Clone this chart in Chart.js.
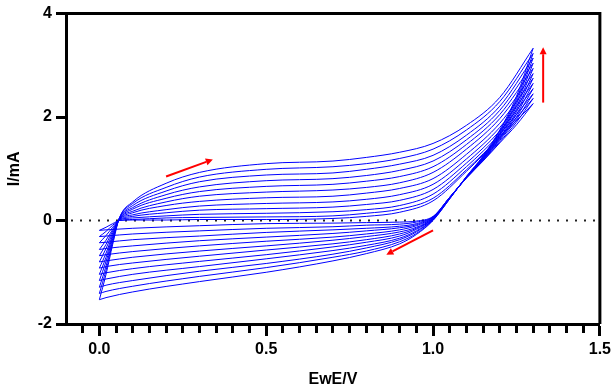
<!DOCTYPE html>
<html lang="en">
<head>
  <meta charset="UTF-8" />
  <title>CV cycles</title>
  <script src="https://cdn.jsdelivr.net/npm/chart.js"></script>
  <style>
    html, body { margin: 0; padding: 0; background: #ffffff; }
    #wrap { width: 615px; height: 391px; }
  </style>
</head>
<body>
  <div id="wrap"><canvas id="cv"></canvas></div>

  <script>
  // potential grid (V) for the anodic sweep and the cathodic sweep
  const E_FWD = [0, 0.02, 0.04, 0.06, 0.1, 0.2, 0.3, 0.5, 0.7, 0.8, 0.9, 1.0, 1.1, 1.2, 1.3];
  const E_REV = [1.3, 1.25, 1.2, 1.15, 1.1, 1.05, 1.0, 0.95, 0.9, 0.8, 0.7, 0.5, 0.3, 0.1, 0.02, 0];

  // current (mA), one row per cycle, anodic sweep
  const I_FWD = [
    [-0.19, -0.13, -0.06, 0.00, 0.01, 0.01, 0.02, 0.02, 0.04, 0.08, 0.16, 0.38, 0.95, 1.60, 2.26],
    [-0.31, -0.21, -0.09, 0.00, 0.02, 0.05, 0.06, 0.07, 0.09, 0.14, 0.22, 0.43, 0.98, 1.62, 2.36],
    [-0.43, -0.29, -0.13, 0.01, 0.05, 0.09, 0.12, 0.14, 0.17, 0.21, 0.29, 0.51, 1.04, 1.67, 2.45],
    [-0.56, -0.38, -0.17, 0.01, 0.08, 0.15, 0.20, 0.23, 0.26, 0.31, 0.39, 0.60, 1.11, 1.73, 2.55],
    [-0.68, -0.46, -0.20, 0.02, 0.11, 0.21, 0.28, 0.33, 0.36, 0.41, 0.50, 0.70, 1.19, 1.80, 2.65],
    [-0.80, -0.54, -0.24, 0.02, 0.15, 0.29, 0.37, 0.44, 0.47, 0.53, 0.62, 0.81, 1.28, 1.88, 2.75],
    [-0.92, -0.63, -0.28, 0.03, 0.18, 0.36, 0.47, 0.55, 0.59, 0.64, 0.73, 0.93, 1.38, 1.97, 2.84],
    [-1.04, -0.71, -0.31, 0.03, 0.22, 0.43, 0.56, 0.66, 0.70, 0.76, 0.85, 1.04, 1.47, 2.05, 2.94],
    [-1.16, -0.79, -0.35, 0.04, 0.25, 0.50, 0.65, 0.77, 0.81, 0.87, 0.97, 1.15, 1.56, 2.13, 3.04],
    [-1.29, -0.88, -0.39, 0.04, 0.29, 0.57, 0.75, 0.88, 0.92, 0.99, 1.09, 1.26, 1.65, 2.21, 3.14],
    [-1.41, -0.96, -0.42, 0.05, 0.33, 0.64, 0.84, 0.99, 1.04, 1.10, 1.20, 1.38, 1.75, 2.30, 3.23],
    [-1.53, -1.04, -0.46, 0.05, 0.36, 0.72, 0.93, 1.10, 1.15, 1.22, 1.32, 1.49, 1.84, 2.38, 3.33]
  ];

  // current (mA), one row per cycle, cathodic sweep
  const I_REV = [
    [2.26, 1.85, 1.50, 1.15, 0.82, 0.45, 0.08, -0.01, -0.03, -0.04, -0.05, -0.06, -0.10, -0.15, -0.18, -0.19],
    [2.36, 1.90, 1.52, 1.16, 0.82, 0.45, 0.07, -0.03, -0.07, -0.09, -0.12, -0.15, -0.20, -0.26, -0.30, -0.31],
    [2.45, 1.95, 1.55, 1.17, 0.83, 0.45, 0.07, -0.06, -0.11, -0.15, -0.18, -0.23, -0.30, -0.37, -0.42, -0.43],
    [2.55, 2.00, 1.57, 1.18, 0.83, 0.44, 0.06, -0.08, -0.14, -0.20, -0.25, -0.32, -0.39, -0.49, -0.54, -0.56],
    [2.65, 2.05, 1.59, 1.19, 0.83, 0.44, 0.05, -0.10, -0.18, -0.26, -0.32, -0.40, -0.49, -0.60, -0.66, -0.68],
    [2.75, 2.10, 1.61, 1.20, 0.83, 0.44, 0.04, -0.13, -0.22, -0.31, -0.38, -0.49, -0.59, -0.71, -0.78, -0.80],
    [2.84, 2.15, 1.64, 1.20, 0.84, 0.44, 0.04, -0.15, -0.26, -0.37, -0.45, -0.57, -0.69, -0.82, -0.89, -0.92],
    [2.94, 2.20, 1.66, 1.21, 0.84, 0.43, 0.03, -0.17, -0.30, -0.42, -0.51, -0.66, -0.79, -0.93, -1.01, -1.04],
    [3.04, 2.25, 1.68, 1.22, 0.84, 0.43, 0.02, -0.20, -0.34, -0.48, -0.58, -0.74, -0.89, -1.04, -1.13, -1.16],
    [3.14, 2.30, 1.70, 1.23, 0.84, 0.43, 0.02, -0.22, -0.37, -0.53, -0.65, -0.83, -0.98, -1.16, -1.25, -1.29],
    [3.23, 2.35, 1.73, 1.24, 0.85, 0.42, 0.01, -0.25, -0.41, -0.59, -0.71, -0.91, -1.08, -1.27, -1.37, -1.41],
    [3.33, 2.40, 1.75, 1.25, 0.85, 0.42, 0.00, -0.27, -0.45, -0.64, -0.78, -1.00, -1.18, -1.38, -1.49, -1.53]
  ];

  const X_LABELS = [0, 0.5, 1.0, 1.5];
  const Y_LABELS = [-2, 0, 2, 4];

  // scan direction arrows [E start, I start, E end, I end]
  const ARROWS = [
    [0.20, 0.85, 0.34, 1.18],
    [1.33, 2.28, 1.33, 3.35],
    [1.00, -0.19, 0.86, -0.66]
  ];

  const FONT = '"Liberation Sans", Arial, sans-serif';
  const BLUE = '#0000ff';

  const isMajor = v => X_LABELS.some(m => Math.abs(m - v) < 1e-6);

  const datasets = [];
  I_FWD.forEach(row => {
    datasets.push({
      data: E_FWD.map((e, i) => ({ x: e, y: row[i] })),
      borderColor: BLUE, borderWidth: 1, pointRadius: 0,
      cubicInterpolationMode: 'monotone'
    });
  });
  I_REV.forEach(row => {
    datasets.push({
      data: E_REV.map((e, i) => ({ x: e, y: row[i] })),
      borderColor: BLUE, borderWidth: 1, pointRadius: 0,
      cubicInterpolationMode: 'monotone'
    });
  });
  // dotted zero line
  datasets.push({
    data: [{ x: -0.1, y: 0 }, { x: 1.5, y: 0 }],
    borderColor: '#222222', borderWidth: 2, borderDash: [2, 7], borderDashOffset: -5,
    pointRadius: 0, order: 5
  });

  const framePlugin = {
    id: 'frame',
    beforeDatasetsDraw(chart) {
      const { ctx, chartArea: a } = chart;
      ctx.save();
      ctx.strokeStyle = '#000';
      ctx.lineWidth = 3;
      ctx.beginPath();
      ctx.moveTo(a.left, a.top);
      ctx.lineTo(a.right, a.top);
      ctx.lineTo(a.right, a.bottom);
      ctx.stroke();
      ctx.restore();
    }
  };

  const arrowPlugin = {
    id: 'arrows',
    afterDatasetsDraw(chart) {
      const { ctx, scales: { x, y } } = chart;
      ctx.save();
      ctx.strokeStyle = '#ff0000';
      ctx.fillStyle = '#ff0000';
      ctx.lineWidth = 2;
      ARROWS.forEach(([e0, i0, e1, i1]) => {
        const x0 = x.getPixelForValue(e0), y0 = y.getPixelForValue(i0);
        const x1 = x.getPixelForValue(e1), y1 = y.getPixelForValue(i1);
        const ang = Math.atan2(y1 - y0, x1 - x0);
        const hl = 7, hw = 3.5;
        const bx = x1 - hl * Math.cos(ang), by = y1 - hl * Math.sin(ang);
        ctx.beginPath();
        ctx.moveTo(x0, y0);
        ctx.lineTo(bx, by);
        ctx.stroke();
        ctx.beginPath();
        ctx.moveTo(x1, y1);
        ctx.lineTo(bx + hw * Math.sin(ang), by - hw * Math.cos(ang));
        ctx.lineTo(bx - hw * Math.sin(ang), by + hw * Math.cos(ang));
        ctx.closePath();
        ctx.fill();
      });
      ctx.restore();
    }
  };

  new Chart(document.getElementById('cv'), {
    type: 'scatter',
    data: { datasets: datasets },
    options: {
      responsive: true,
      maintainAspectRatio: false,
      animation: false,
      showLine: true,
      layout: { padding: { left: 0, right: 14, top: 13, bottom: 0 } },
      plugins: { legend: { display: false }, tooltip: { enabled: false } },
      scales: {
        x: {
          type: 'linear', min: -0.1, max: 1.5,
          afterFit: s => { s.height = 67; },
          border: { display: true, color: '#000', width: 3 },
          grid: {
            drawOnChartArea: false, drawTicks: true, tickLength: 12, tickWidth: 3,
            tickColor: c => (c.tick && c.tick.value < -0.09 ? 'rgba(0,0,0,0)' : '#000'),
            tickBorderDash: c => (c.tick && isMajor(c.tick.value) ? [] : [7, 20])
          },
          ticks: {
            stepSize: 0.05, autoSkip: false, maxRotation: 0, padding: 4,
            color: '#000', font: { family: FONT, size: 16, weight: 'bold' },
            callback: v => (isMajor(v) ? v.toFixed(1) : '')
          },
          title: {
            display: true, text: 'EwE/V', color: '#000',
            font: { family: FONT, size: 16, weight: 'bold' },
            padding: { top: 0, bottom: 2 }
          }
        },
        y: {
          type: 'linear', min: -2, max: 4,
          afterFit: s => { s.width = 66; },
          afterBuildTicks: s => { s.ticks = Y_LABELS.map(v => ({ value: v })); },
          border: { display: true, color: '#000', width: 3 },
          grid: { drawOnChartArea: false, drawTicks: true, tickLength: 10, tickWidth: 3, tickColor: '#000' },
          ticks: {
            padding: 4, color: '#000',
            font: { family: FONT, size: 16, weight: 'bold' },
            callback: v => String(v)
          },
          title: {
            display: true, text: 'I/mA', color: '#000',
            font: { family: FONT, size: 16, weight: 'bold' },
            padding: { top: 5, bottom: 0 }
          }
        }
      }
    },
    plugins: [framePlugin, arrowPlugin]
  });
  </script>
</body>
</html>
